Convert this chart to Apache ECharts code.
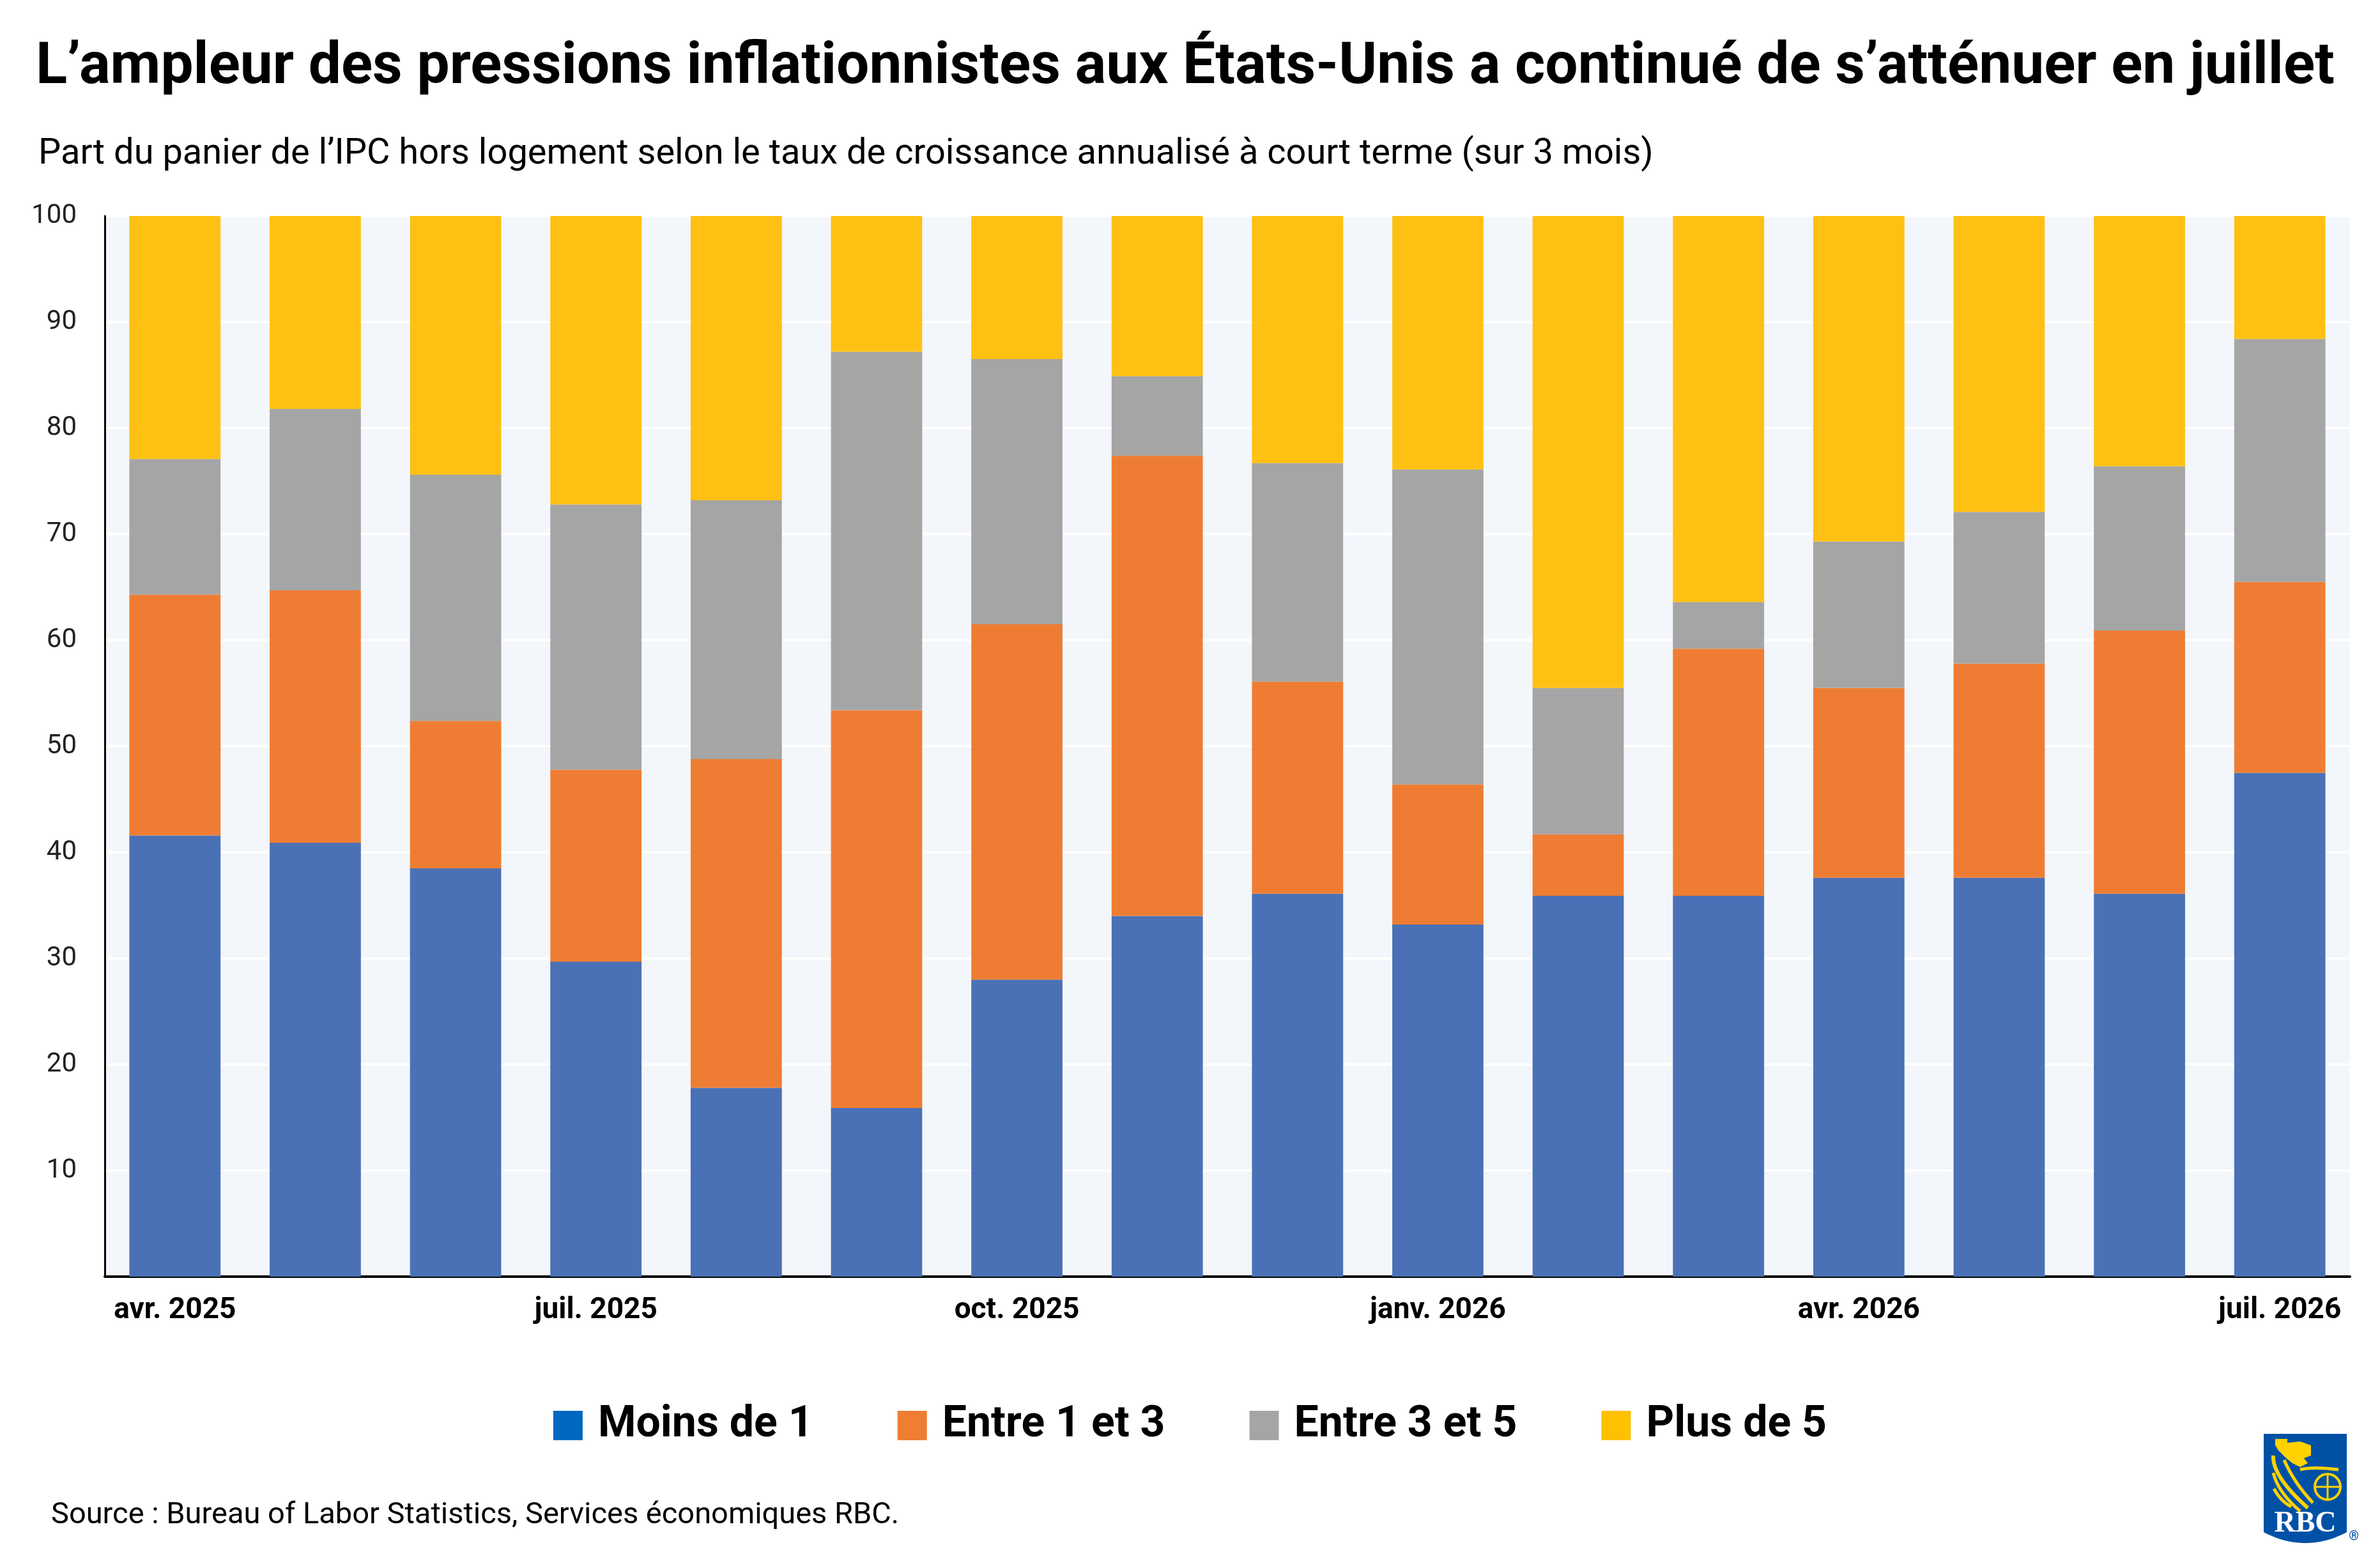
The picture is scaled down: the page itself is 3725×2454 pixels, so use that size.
<!DOCTYPE html>
<html>
<head>
<meta charset="utf-8">
<script src="https://cdn.jsdelivr.net/npm/echarts@6/dist/echarts.min.js"></script>
<style>
html,body{margin:0;padding:0;background:#fff;}
#chart{width:3725px;height:2454px;}
</style>
</head>
<body>
<div id="chart"></div>
<script>
const categories = ['avr. 2025','mai 2025','juin 2025','juil. 2025','août 2025','sept. 2025','oct. 2025','nov. 2025','déc. 2025','janv. 2026','févr. 2026','mars 2026','avr. 2026','mai 2026','juin 2026','juil. 2026'];
const seriesNames = ['Moins de 1','Entre 1 et 3','Entre 3 et 5','Plus de 5'];
const moinsDe1  = [41.6, 40.9, 38.5, 29.7, 17.8, 15.9, 28.0, 34.0, 36.1, 33.2, 35.9, 35.9, 37.6, 37.6, 36.1, 47.5];
const entre1et3 = [22.7, 23.8, 13.9, 18.1, 31.0, 37.5, 33.5, 43.4, 20.0, 13.2, 5.8, 23.3, 17.9, 20.2, 24.8, 18.0];
const entre3et5 = [12.8, 17.1, 23.2, 25.0, 24.4, 33.8, 25.0, 7.5, 20.6, 29.7, 13.8, 4.4, 13.8, 14.3, 15.5, 22.9];
const plusDe5   = [22.9, 18.2, 24.4, 27.2, 26.8, 12.8, 13.5, 15.1, 23.3, 23.9, 44.5, 36.4, 30.7, 27.9, 23.6, 11.6];
const yTicks = [10,20,30,40,50,60,70,80,90,100];

const barColors = ['#4a71b6','#ee7d33','#a5a5a5','#fec113'];
const legendColors = ['#0068c0','#ef7d32','#a5a5a5','#ffc000'];
const values = [moinsDe1, entre1et3, entre3et5, plusDe5];

const chart = echarts.init(document.getElementById('chart'), null, {renderer:'canvas'});

const F = 'Roboto, "Noto Sans", sans-serif';

// shield outline for the logo (decoration)
const shieldPts = [[3543,2244],[3673,2244],[3673,2398]];
for (let k = 1; k < 20; k++) {
  const t = k / 20;
  const x = (1-t)*(1-t)*3673 + 2*(1-t)*t*3608 + t*t*3543;
  const y = (1-t)*(1-t)*2398 + 2*(1-t)*t*2432 + t*t*2398;
  shieldPts.push([x, y]);
}
shieldPts.push([3543,2398]);

const option = {
  backgroundColor:'#ffffff',
  animation:false,
  grid:{left:164, right:47, top:338, bottom:456, show:true, backgroundColor:'#f3f6fb', borderWidth:0},
  legend:{
    left:'center', top:2192,
    itemWidth:46, itemHeight:46, itemGap:132,
    icon:'rect',
    textStyle:{fontFamily:F, fontSize:68, fontWeight:'bold', color:'#000', padding:[0,0,0,19]},
    data: seriesNames.map((n,i)=>({name:n, itemStyle:{color:legendColors[i]}}))
  },
  xAxis:{
    type:'category', data:categories,
    axisLine:{show:true, lineStyle:{color:'#000', width:4}},
    axisTick:{show:false},
    axisLabel:{interval:2, margin:30, fontFamily:F, fontSize:46, fontWeight:'bold', color:'#000'},
    splitLine:{show:false}
  },
  yAxis:{
    type:'value', min:0, max:100, interval:10,
    axisLine:{show:true, lineStyle:{color:'#000', width:3}},
    axisTick:{show:false},
    axisLabel:{margin:44, fontFamily:F, fontSize:42, color:'#222',
      formatter:v=> yTicks.indexOf(v) >= 0 ? String(v) : ''},
    splitLine:{show:true, lineStyle:{color:'#ffffff', width:4}}
  },
  series: seriesNames.map((n,i)=>({
    name:n, type:'bar', stack:'total', data:values[i],
    barWidth:'65%',
    itemStyle:{color:barColors[i]}
  })),
  graphic:[
    {type:'text', style:{text:"L’ampleur des pressions inflationnistes aux États-Unis a continué de s’atténuer en juillet",
      x:56, y:107, font:'bold 91px '+F, fill:'#000', align:'left', verticalAlign:'middle'}},
    {type:'text', style:{text:"Part du panier de l’IPC hors logement selon le taux de croissance annualisé à court terme (sur 3 mois)",
      x:60, y:242, font:'56px '+F, fill:'#000', align:'left', verticalAlign:'middle'}},
    {type:'text', style:{text:"Source : Bureau of Labor Statistics, Services économiques RBC.",
      x:80, y:2372, font:'47px '+F, fill:'#000', align:'left', verticalAlign:'middle'}},
    // RBC logo (simplified)
    {type:'polygon', shape:{points:shieldPts}, style:{fill:'#0051a5'}},
    {type:'polygon', shape:{points:[[3561,2252],[3580,2252],[3580,2258],[3600,2256],[3617,2262],[3617,2278],[3606,2282],[3612,2290],[3600,2296],[3588,2290],[3578,2282],[3566,2270],[3561,2262]]}, style:{fill:'#ffd200'}},
    {type:'circle', shape:{cx:3643, cy:2327, r:20}, style:{fill:'none', stroke:'#ffd200', lineWidth:4}},
    {type:'line', shape:{x1:3623, y1:2327, x2:3663, y2:2327}, style:{stroke:'#ffd200', lineWidth:3}},
    {type:'line', shape:{x1:3643, y1:2307, x2:3643, y2:2347}, style:{stroke:'#ffd200', lineWidth:3}},
    {type:'bezierCurve', shape:{x1:3558, y1:2278, cpx1:3556, cpy1:2310, x2:3612, y2:2360}, style:{stroke:'#ffd200', lineWidth:6, fill:null}},
    {type:'bezierCurve', shape:{x1:3558, y1:2305, cpx1:3565, cpy1:2335, x2:3600, y2:2365}, style:{stroke:'#ffd200', lineWidth:5, fill:null}},
    {type:'bezierCurve', shape:{x1:3559, y1:2330, cpx1:3570, cpy1:2350, x2:3586, y2:2358}, style:{stroke:'#ffd200', lineWidth:5, fill:null}},
    {type:'bezierCurve', shape:{x1:3575, y1:2285, cpx1:3590, cpy1:2320, x2:3620, y2:2352}, style:{stroke:'#ffd200', lineWidth:5, fill:null}},
    {type:'bezierCurve', shape:{x1:3600, y1:2300, cpx1:3620, cpy1:2295, x2:3660, y2:2300}, style:{stroke:'#ffd200', lineWidth:5, fill:null}},
    {type:'text', style:{text:'RBC', x:3608, y:2385, font:'bold 46px "Liberation Serif", "DejaVu Serif", serif', fill:'#ffffff', align:'center', verticalAlign:'middle'}},
    {type:'text', style:{text:'®', x:3684, y:2405, font:'bold 20px '+F, fill:'#0051a5', align:'center', verticalAlign:'middle'}}
  ]
};
chart.setOption(option);
</script>
</body>
</html>
